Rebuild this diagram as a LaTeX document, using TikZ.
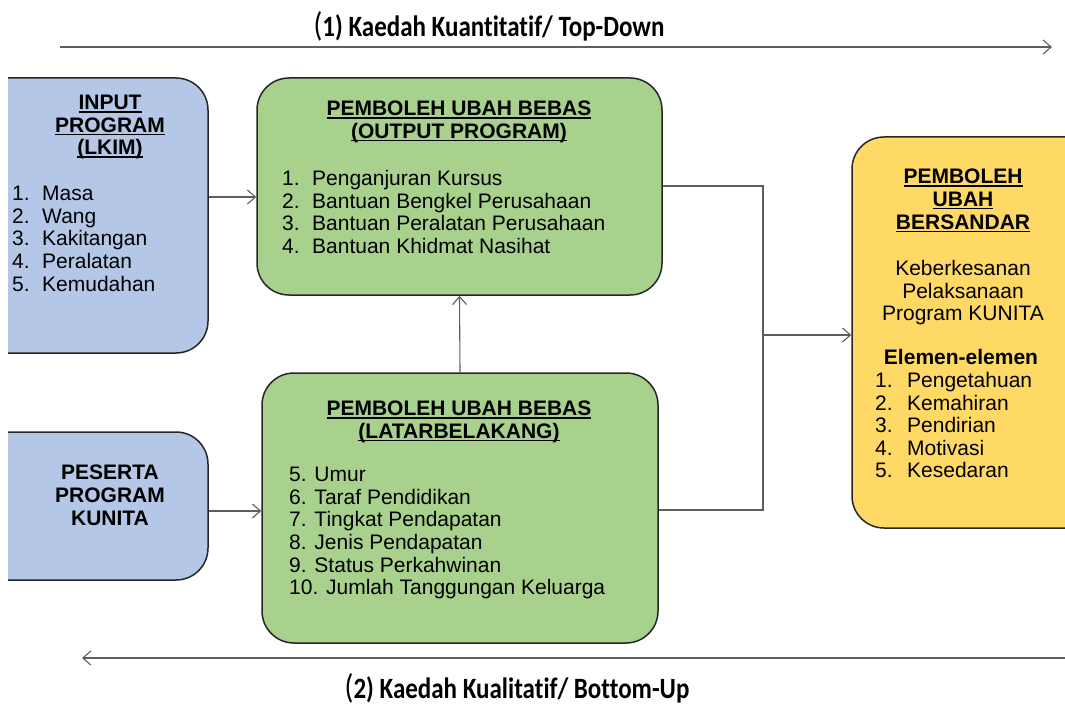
\documentclass[tikz,border=0pt]{standalone}
\usepackage{fontspec}
\setmainfont{Liberation Sans}
\newfontfamily\titlefont[Ligatures=NoCommon]{Carlito}
\usetikzlibrary{arrows.meta}
\definecolor{boxblue}{HTML}{B4C7E7}
\definecolor{boxgreen}{HTML}{A9D18E}
\definecolor{boxyellow}{HTML}{FFD966}
\definecolor{edgecol}{HTML}{262626}
\definecolor{conncol}{HTML}{5E5E5E}
\newcommand\ulx[1]{\setbox0\hbox{#1}\rlap{\rule[-3pt]{\wd0}{1.4pt}}\box0}
\newcommand\num[1]{\makebox[30pt][l]{#1}}
\newcommand\numy[1]{\makebox[32pt][l]{#1}}
\newcommand\bigparen{{\mdseries\fontsize{29}{29}\selectfont(}}
\begin{document}
\begin{tikzpicture}[x=1pt,y=-1pt,
  box/.style={draw=edgecol, line width=1.5pt, rounded corners=32pt, inner sep=0pt},
  txt/.style={inner sep=0pt, font=\fontsize{21}{22.6}\selectfont, text=black},
  btxt/.style={txt, font=\fontsize{21}{22.6}\selectfont\bfseries},
  ttl/.style={inner sep=0pt, font=\fontsize{25}{27}\selectfont\titlefont\bfseries},
  arr/.style={draw=conncol, line width=1.1pt, -{Straight Barb[length=8pt,width=14pt]}},
  conn/.style={draw=conncol, line width=1.1pt},
]
\useasboundingbox (0,0) rectangle (1065,706);
\begin{scope}
  \clip (8,0) rectangle (1065,706);
  \node[box, fill=boxblue, minimum width=250pt, minimum height=275pt] (inp) at (83,215.5) {};
  \node[box, fill=boxblue, minimum width=250pt, minimum height=148pt] (pes) at (83,506) {};
  \node[box, fill=boxyellow, minimum width=260pt, minimum height=391pt] (dep) at (982,332.5) {};
\end{scope}
\node[box, fill=boxgreen, minimum width=405pt, minimum height=217pt] (g1) at (459.5,186.5) {};
\node[box, fill=boxgreen, minimum width=396pt, minimum height=270pt] (g2) at (460,508) {};

% titles
\node[ttl] (t1) at (489,26) {\scalebox{1}[1.18]{\bigparen1) Kaedah Kuantitatif/ Top-Down}};
\node[ttl] (t2) at (517,688) {\scalebox{1}[1.18]{\bigparen2) Kaedah Kualitatif/ Bottom-Up}};
\coordinate (tl) at (60,47);
\coordinate (tr) at (1052,47);
\coordinate (bl) at (82,658);
\coordinate (br) at (1065,658);
\draw[arr] (tl) -- (tr);
\draw[arr] (br) -- (bl);

% INPUT box text
\node[btxt, align=center, anchor=north] (inpT) at (110,95) {\ulx{INPUT}\\\ulx{PROGRAM}\\\ulx{(LKIM)}};
\node[txt, align=left, anchor=north west] (inpL) at (12,186) {\num{1.}Masa\\\num{2.}Wang\\\num{3.}Kakitangan\\\num{4.}Peralatan\\\num{5.}Kemudahan};

% PESERTA
\node[btxt, align=center, anchor=north] (pesT) at (110,465) {PESERTA\\PROGRAM\\KUNITA};

% green 1
\node[btxt, align=center, anchor=north] (g1T) at (459,101) {\ulx{PEMBOLEH UBAH BEBAS}\\\ulx{(OUTPUT PROGRAM)}};
\node[txt, align=left, anchor=north west] (g1L) at (282,170) {\num{1.}Penganjuran Kursus\\\num{2.}Bantuan Bengkel Perusahaan\\\num{3.}Bantuan Peralatan Perusahaan\\\num{4.}Bantuan Khidmat Nasihat};

% green 2
\node[btxt, align=center, anchor=north] (g2T) at (459,401) {\ulx{PEMBOLEH UBAH BEBAS}\\\ulx{(LATARBELAKANG)}};
\node[txt, align=left, anchor=north west] (g2L) at (289,467) {5. Umur\\6. Taraf Pendidikan\\7. Tingkat Pendapatan\\8. Jenis Pendapatan\\9. Status Perkahwinan\\10. Jumlah Tanggungan Keluarga};

% yellow
\node[btxt, align=center, anchor=north] (depT) at (963,169) {\ulx{PEMBOLEH}\\\ulx{UBAH}\\\ulx{BERSANDAR}};
\node[txt, align=center, anchor=north] (depD) at (963,260) {Keberkesanan\\Pelaksanaan\\Program KUNITA};
\node[btxt, anchor=north] (depE) at (961,349) {Elemen-elemen};
\node[txt, align=left, anchor=north west] (depL) at (875,372) {\numy{1.}Pengetahuan\\\numy{2.}Kemahiran\\\numy{3.}Pendirian\\\numy{4.}Motivasi\\\numy{5.}Kesedaran};

% connectors
\coordinate (a1) at (0,197);
\coordinate (a2) at (0,511);
\coordinate (j1) at (763,186);
\coordinate (j2) at (763,510);
\coordinate (jm) at (763,335);
\draw[arr] (inp.east |- a1) -- (g1.west |- a1);
\draw[arr] (pes.east |- a2) -- (g2.west |- a2);
\draw[arr] (g2.north) -- (g1.south);
\draw[conn] (g1.east |- j1) -- (j1) -- (j2) -- (g2.east |- j2);
\draw[arr] (jm) -- (dep.west |- jm);
\end{tikzpicture}
\end{document}
